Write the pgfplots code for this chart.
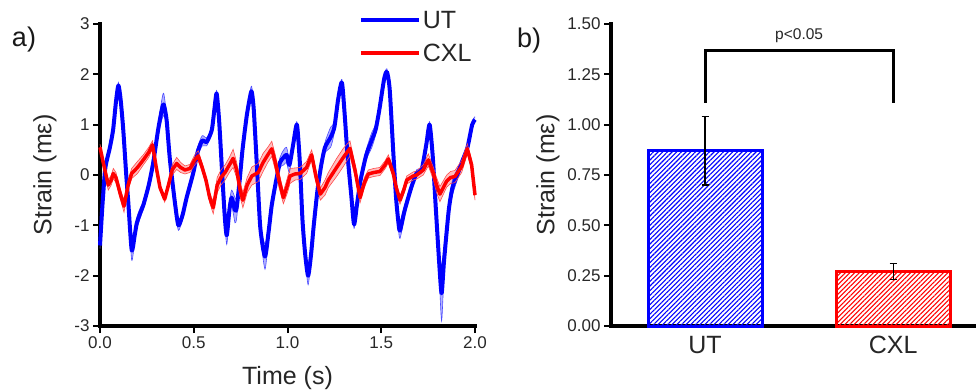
\documentclass[border=0pt]{standalone}
\usepackage{fontspec}
\setmainfont{Liberation Sans}
\usepackage{pgfplots}
\usepackage{pgfplotstable}
\pgfplotsset{compat=1.18}
\usepgfplotslibrary{fillbetween}
\usetikzlibrary{patterns.meta}
\definecolor{tickc}{RGB}{40,40,40}

\pgfplotstableread{
t v e
0.000 -1.40 0.06
0.013 -0.60 0.06
0.027 0.10 0.06
0.040 0.35 0.06
0.053 0.55 0.06
0.070 0.90 0.06
0.085 1.45 0.06
0.098 1.78 0.06
0.110 1.50 0.06
0.124 0.90 0.06
0.140 0.00 0.08
0.151 -0.55 0.10
0.169 -1.49 0.20
0.185 -1.20 0.12
0.196 -0.96 0.12
0.215 -0.75 0.10
0.231 -0.60 0.08
0.260 -0.20 0.10
0.284 0.25 0.15
0.310 0.90 0.12
0.330 1.30 0.20
0.340 1.40 0.22
0.355 1.10 0.10
0.373 0.30 0.06
0.400 -0.56 0.08
0.418 -1.00 0.10
0.440 -0.80 0.08
0.462 -0.45 0.08
0.498 0.05 0.10
0.520 0.45 0.10
0.545 0.68 0.10
0.569 0.66 0.08
0.596 0.89 0.06
0.610 1.30 0.06
0.622 1.62 0.06
0.635 1.10 0.06
0.649 0.20 0.06
0.665 -0.80 0.10
0.676 -1.20 0.18
0.690 -0.70 0.15
0.702 -0.45 0.15
0.720 -0.70 0.25
0.729 -0.65 0.20
0.745 -0.10 0.15
0.760 0.50 0.10
0.782 1.16 0.10
0.800 1.55 0.10
0.809 1.66 0.10
0.820 1.30 0.06
0.838 0.10 0.06
0.855 -1.05 0.10
0.880 -1.62 0.25
0.900 -1.10 0.10
0.916 -0.60 0.08
0.940 -0.10 0.06
0.960 0.25 0.10
0.980 0.35 0.15
0.995 0.40 0.15
1.010 0.20 0.15
1.030 0.60 0.10
1.050 1.00 0.06
1.065 0.30 0.06
1.080 -0.90 0.06
1.095 -1.60 0.10
1.110 -2.00 0.18
1.125 -1.60 0.10
1.140 -1.00 0.06
1.160 -0.30 0.06
1.180 0.20 0.06
1.200 0.55 0.10
1.230 0.75 0.20
1.250 0.95 0.10
1.270 1.50 0.06
1.290 1.84 0.06
1.305 1.20 0.06
1.320 0.40 0.06
1.340 -0.40 0.06
1.355 -0.98 0.08
1.370 -0.60 0.06
1.390 -0.10 0.06
1.420 0.40 0.10
1.450 0.70 0.15
1.470 0.90 0.10
1.490 1.30 0.06
1.515 1.90 0.06
1.530 2.05 0.06
1.545 1.70 0.06
1.565 0.40 0.06
1.580 -0.50 0.06
1.597 -1.10 0.15
1.610 -0.95 0.15
1.625 -0.70 0.10
1.660 -0.25 0.08
1.690 0.05 0.06
1.715 0.10 0.06
1.740 0.60 0.06
1.758 1.00 0.06
1.775 0.35 0.06
1.790 -0.60 0.10
1.810 -1.80 0.30
1.822 -2.35 0.55
1.835 -1.70 0.30
1.860 -0.70 0.15
1.880 -0.25 0.15
1.910 0.05 0.10
1.935 0.30 0.08
1.960 0.55 0.06
1.985 1.00 0.06
2.000 1.10 0.06
}\utdata

\pgfplotstableread{
t v e
0.000 0.55 0.06
0.020 0.20 0.08
0.044 -0.20 0.10
0.060 -0.10 0.10
0.071 0.03 0.10
0.085 -0.05 0.10
0.110 -0.40 0.10
0.128 -0.62 0.12
0.150 -0.20 0.10
0.169 0.03 0.10
0.200 0.15 0.12
0.231 0.30 0.10
0.260 0.45 0.10
0.280 0.60 0.08
0.300 0.15 0.06
0.320 -0.25 0.06
0.345 -0.48 0.06
0.365 -0.20 0.08
0.385 0.10 0.10
0.409 0.23 0.12
0.430 0.15 0.10
0.453 0.10 0.08
0.480 0.13 0.08
0.505 0.30 0.10
0.524 0.38 0.10
0.545 0.15 0.08
0.565 -0.10 0.08
0.585 -0.45 0.10
0.604 -0.65 0.12
0.625 -0.20 0.15
0.645 -0.05 0.15
0.667 0.05 0.15
0.690 0.20 0.15
0.710 0.33 0.18
0.729 0.10 0.15
0.745 -0.25 0.15
0.762 -0.50 0.15
0.785 -0.20 0.15
0.810 -0.02 0.18
0.844 0.05 0.18
0.870 0.25 0.18
0.895 0.40 0.15
0.916 0.52 0.15
0.935 0.25 0.15
0.955 -0.10 0.15
0.978 -0.45 0.12
1.000 -0.20 0.15
1.013 -0.02 0.15
1.040 0.02 0.12
1.067 0.03 0.12
1.102 0.15 0.12
1.129 0.40 0.10
1.150 0.00 0.12
1.175 -0.38 0.12
1.200 -0.25 0.15
1.218 -0.10 0.15
1.262 0.15 0.18
1.298 0.35 0.18
1.333 0.53 0.15
1.360 0.10 0.12
1.387 -0.45 0.10
1.410 -0.15 0.10
1.431 0.02 0.08
1.460 0.05 0.08
1.493 0.07 0.08
1.520 0.20 0.08
1.538 0.32 0.08
1.564 0.03 0.08
1.580 -0.25 0.08
1.600 -0.50 0.08
1.620 -0.30 0.08
1.636 -0.10 0.08
1.670 -0.02 0.08
1.689 0.00 0.08
1.724 0.10 0.10
1.751 0.30 0.12
1.778 0.03 0.12
1.795 -0.20 0.15
1.813 -0.38 0.15
1.849 -0.12 0.12
1.870 -0.05 0.12
1.893 -0.03 0.12
1.929 0.17 0.12
1.959 0.52 0.10
1.982 0.20 0.10
2.000 -0.40 0.10
}\cxldata

\pgfplotstableread{
x y err
0 0.87 0.17
}\utbar
\pgfplotstableread{
x y err
1 0.27 0.04
}\cxlbar

\begin{document}
\begin{tikzpicture}
\pgfplotsset{
  common/.style={
    scale only axis,
    anchor=south west,
    axis x line*=bottom,
    axis y line*=left,
    axis line style={line width=3.2bp, -, line cap=rect},
    tick align=outside,
    major tick length=7bp,
    every tick/.style={line width=2bp, black},
    tick label style={font=\fontsize{17bp}{20bp}\selectfont, text=tickc},
    label style={font=\fontsize{25bp}{30bp}\selectfont, text=black!85},
    /pgf/number format/assume math mode=true,
    clip=false,
  },
}
\begin{axis}[common,
  at={(100bp,-326bp)},
  width=375bp, height=302bp,
  xmin=0, xmax=2, ymin=-3, ymax=3,
  xtick={0,0.5,1,1.5,2}, xticklabels={0.0,0.5,1.0,1.5,2.0},
  ytick={-3,-2,-1,0,1,2,3}, yticklabels={-3,-2,-1,0,1,2,3},
  xlabel={Time (s)}, ylabel={Strain (mε)},
  xlabel style={at={(axis description cs:0.5,-0.172)}, anchor=center},
  ylabel style={at={(axis description cs:-0.147,0.5)}, anchor=center, rotate=0},
  legend style={draw=none, fill=none, at={(axis description cs:0.69,1.068)}, anchor=north west,
    font=\fontsize{25bp}{30bp}\selectfont, text=black!85, inner sep=0pt},
  legend cell align=left,
  legend image code/.code={\path[draw=none, fill=none] (0bp,-16.5bp) rectangle (58bp,16.5bp); \draw[#1] (0bp,0bp) -- (58bp,0bp);},
]
\addplot[draw=blue!70, line width=0.6bp, smooth, tension=0.4, name path=uthi, forget plot]
  table[x=t, y expr=\thisrow{v}+\thisrow{e}] {\utdata};
\addplot[draw=blue!70, line width=0.6bp, smooth, tension=0.4, name path=utlo, forget plot]
  table[x=t, y expr=\thisrow{v}-\thisrow{e}] {\utdata};
\addplot[fill=blue, fill opacity=0.3, draw=none, forget plot] fill between[of=uthi and utlo];
\addplot[blue, line width=4bp, smooth, tension=0.4, line join=round] table[x=t, y=v] {\utdata};
\addlegendentry{UT}
\addplot[draw=red!70, line width=0.6bp, name path=cxhi, forget plot]
  table[x=t, y expr=\thisrow{v}+\thisrow{e}] {\cxldata};
\addplot[draw=red!70, line width=0.6bp, name path=cxlo, forget plot]
  table[x=t, y expr=\thisrow{v}-\thisrow{e}] {\cxldata};
\addplot[fill=red, fill opacity=0.25, draw=none, forget plot] fill between[of=cxhi and cxlo];
\addplot[red, line width=3.5bp, line join=round] table[x=t, y=v] {\cxldata};
\addlegendentry{CXL}
\end{axis}

\begin{axis}[common,
  at={(611bp,-326bp)},
  width=365bp, height=302bp,
  xmin=-0.5, xmax=1.44, ymin=0, ymax=1.5,
  xtick={0,1}, xticklabels={UT,CXL},
  x tick style={draw=none},
  xticklabel style={font=\fontsize{25bp}{30bp}\selectfont, text=black!85},
  ytick={0,0.25,0.5,0.75,1,1.25,1.5},
  yticklabels={0.00,0.25,0.50,0.75,1.00,1.25,1.50},
  ylabel={Strain (mε)},
  ylabel style={at={(axis description cs:-0.1726,0.5)}, anchor=center},
]
\addplot[ybar, bar shift=0bp, bar width=114bp, draw=blue, line width=3bp,
  pattern={Lines[angle=45,distance=3.3bp,line width=1.1bp]}, pattern color=blue,
  error bars/.cd, y dir=both, y explicit,
  error bar style={line width=1.2bp, black},
  error mark options={rotate=90, mark size=3.5bp, line width=1.2bp, black}]
  table[x=x, y=y, y error=err] {\utbar};
\addplot[ybar, bar shift=0bp, bar width=114bp, draw=red, line width=3bp,
  pattern={Lines[angle=45,distance=3.3bp,line width=1.1bp]}, pattern color=red,
  error bars/.cd, y dir=both, y explicit,
  error bar style={line width=1.2bp, black},
  error mark options={rotate=90, mark size=3.5bp, line width=1.2bp, black}]
  table[x=x, y=y, y error=err] {\cxlbar};
\addplot[black, line width=3bp, line join=miter] coordinates {(0,1.11) (0,1.37) (1,1.37) (1,1.11)};
\node[font=\fontsize{15.5bp}{18bp}\selectfont, text=black!85] at (axis cs:0.5,1.44) {p<0.05};
\end{axis}

\node[font=\fontsize{27bp}{32bp}\selectfont, text=black!90] at (24bp,-40bp) {a)};
\node[font=\fontsize{27bp}{32bp}\selectfont, text=black!90] at (529bp,-41bp) {b)};
\pgfresetboundingbox
\useasboundingbox (0bp,0bp) rectangle (976bp,-390bp);
\end{tikzpicture}
\end{document}
